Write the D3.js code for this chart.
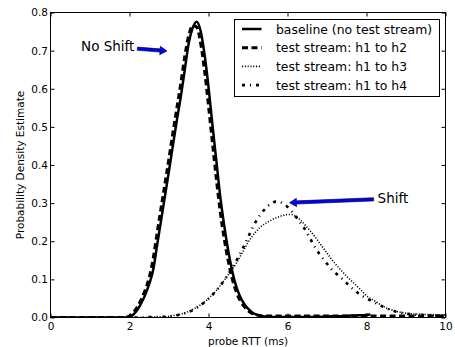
<!DOCTYPE html>
<html>
<head>
<meta charset="utf-8">
<script src="https://cdn.jsdelivr.net/npm/d3@7"></script>
<style>
  body { margin: 0; background: #fff; }
  text { font-family: "DejaVu Sans", sans-serif; }
</style>
</head>
<body>
<svg id="chart" width="455" height="347"></svg>
<script>
// x grid of the density estimates (ms), 0.0 .. 10.0
var rttGrid = d3.range(101).map(function(i){ return i / 10; });

// baseline stops at 8.1 ms
var baselineDensity = [
  0,0,0,0,0,0,0,0,0,0, 0,0,0,0,0,0,0,0,0,0,
  .002,.008,.02,.038,.06,.088,.125,.19,.255,.32,
  .385,.452,.518,.58,.65,.72,.76,.776,.752,.69,
  .605,.505,.41,.315,.24,.175,.122,.082,.055,.036,
  .023,.014,.008,.005,.003,.002,.001,.001,.001,.001,
  .001,.001,.001,.001,.001,.001,.001,.002,.002,.002,
  .002,.003,.003,.003,.004,.004,.005,.005,.006,.006,
  .007,.008
];
var h2Density = [
  0,0,0,0,0,0,0,0,0,0, 0,0,0,0,0,0,0,0,0,.001,
  .004,.013,.028,.048,.073,.105,.155,.222,.288,.352,
  .418,.485,.55,.615,.685,.74,.766,.762,.72,.648,
  .555,.458,.362,.275,.205,.148,.102,.068,.045,.029,
  .018,.011,.007,.005,.004,.004,.004,.004,.004,.004,
  .004,.004,.004,.004,.004,.004,.004,.004,.004,.004,
  .004,.004,.004,.004,.004,.004,.004,.004,.004,.004,
  .004,.004,.004,.004,.004,.004,.004,.004,.004,.004,
  .004,.004,.004,.004,.004,.004,.004,.004,.004,.004,
  .004
];
var h3Density = [
  0,0,0,0,0,0,0,0,0,0, 0,0,0,0,0,0,0,0,0,0,
  0,0,0,0,0,.001,.001,.001,.002,.002,
  .003,.005,.007,.009,.012,.016,.021,.027,.033,.041,
  .05,.06,.071,.084,.098,.112,.126,.142,.16,.178,
  .197,.212,.225,.236,.244,.25,.256,.261,.265,.268,
  .27,.27,.266,.258,.248,.236,.224,.211,.197,.183,
  .169,.155,.142,.13,.119,.108,.098,.088,.078,.068,
  .057,.05,.044,.037,.031,.025,.021,.018,.015,.013,
  .011,.01,.009,.009,.008,.008,.008,.007,.007,.007,
  .007
];
var h4Density = [
  0,0,0,0,0,0,0,0,0,0, 0,0,0,0,0,0,0,0,0,0,
  0,0,0,0,0,.001,.001,.001,.002,.002,
  .003,.004,.006,.008,.011,.015,.019,.025,.032,.04,
  .049,.059,.071,.084,.098,.113,.13,.148,.167,.188,
  .21,.232,.252,.268,.281,.292,.3,.304,.303,.298,
  .29,.279,.266,.252,.238,.221,.202,.184,.168,.154,
  .141,.128,.118,.109,.1,.09,.08,.071,.063,.056,
  .05,.045,.04,.034,.029,.024,.02,.017,.014,.012,
  .01,.009,.008,.007,.007,.006,.006,.005,.005,.005,
  .005
];

var seriesLabels = ["baseline (no test stream)", "test stream: h1 to h2",
                    "test stream: h1 to h3", "test stream: h1 to h4"];
var xTicks = [0, 2, 4, 6, 8, 10];
var yTicks = [0, 0.1, 0.2, 0.3, 0.4, 0.5, 0.6, 0.7, 0.8];

// annotations: text spot and arrow tip in data units
var noShiftNote = {text: "No Shift", tx: 2.2, ty: 0.705, ax: 2.95, ay: 0.699};
var shiftNote = {text: "Shift", tx: 8.18, ty: 0.31, ax: 6.05, ay: 0.301};

var margins = {top: 12.5, left: 50.5, right: 9.5, bottom: 29.5};
var width = 455, height = 347;

var svg = d3.select('#chart');

var xScale = d3.scaleLinear().domain([0, 10]).range([margins.left, width - margins.right]);
var yScale = d3.scaleLinear().domain([0, 0.8]).range([height - margins.bottom, margins.top]);

var styles = [
  {w: 2.5, dash: null},
  {w: 3, dash: "6,3.5"},
  {w: 1.6, dash: "1.1,1.7"},
  {w: 2.6, dash: "3,5,1,5"}
];
var allSeries = [baselineDensity, h2Density, h3Density, h4Density];

svg.append('clipPath').attr('id', 'plotClip')
  .append('rect')
  .attr('x', margins.left).attr('y', margins.top - 3)
  .attr('width', width - margins.left - margins.right)
  .attr('height', height - margins.top - margins.bottom + 3);

var lineGen = d3.line()
  .x(function(d, i){ return xScale(rttGrid[i]); })
  .y(function(d){ return yScale(d); })
  .curve(d3.curveMonotoneX);

svg.append('g').attr('clip-path', 'url(#plotClip)')
  .selectAll('.line').data(allSeries).enter().append('path')
  .attr('class', 'line')
  .attr('d', function(d){ return lineGen(d); })
  .attr('fill', 'none')
  .attr('stroke', '#000')
  .attr('stroke-width', function(d, i){ return styles[i].w; })
  .attr('stroke-dasharray', function(d, i){ return styles[i].dash; });

// axes, matplotlib-style ticks pointing in
var fontSize = 10.5;
svg.append('g').attr('transform', 'translate(0,' + yScale(0) + ')')
  .call(d3.axisBottom(xScale).tickValues(xTicks).tickFormat(d3.format('d')).tickSize(-4).tickPadding(5));
svg.append('g').attr('transform', 'translate(' + xScale(0) + ',0)')
  .call(d3.axisLeft(yScale).tickValues(yTicks).tickFormat(d3.format('.1f')).tickSize(-4).tickPadding(2.5));
svg.append('g').attr('transform', 'translate(0,' + yScale(0.8) + ')')
  .call(d3.axisTop(xScale).tickValues(xTicks).tickFormat('').tickSize(-4));
svg.append('g').attr('transform', 'translate(' + xScale(10) + ',0)')
  .call(d3.axisRight(yScale).tickValues(yTicks).tickFormat('').tickSize(-4));

svg.selectAll('.domain').remove();
svg.selectAll('.tick line').attr('stroke', '#000');
svg.selectAll('.tick text')
  .attr('font-family', '"DejaVu Sans", sans-serif')
  .attr('font-size', fontSize)
  .attr('fill', '#000');

svg.append('rect')
  .attr('x', xScale(0)).attr('y', yScale(0.8))
  .attr('width', xScale(10) - xScale(0))
  .attr('height', yScale(0) - yScale(0.8))
  .attr('fill', 'none').attr('stroke', '#000').attr('stroke-width', 1);

svg.append('text')
  .attr('x', (xScale(0) + xScale(10)) / 2).attr('y', 345)
  .attr('text-anchor', 'middle').attr('font-size', fontSize)
  .text('probe RTT (ms)');

svg.append('text')
  .attr('transform', 'translate(24,' + (yScale(0) + yScale(0.8)) / 2 + ') rotate(-90)')
  .attr('text-anchor', 'middle').attr('font-size', fontSize)
  .text('Probability Density Estimate');

// legend
var legend = svg.append('g').attr('transform', 'translate(234.5,19.5)');
legend.append('rect')
  .attr('width', 205).attr('height', 77)
  .attr('fill', '#fff').attr('stroke', '#000').attr('stroke-width', 1);
var rows = legend.selectAll('.row').data(seriesLabels).enter().append('g')
  .attr('transform', function(d, i){ return 'translate(0,' + (9.5 + i * 18.7) + ')'; });
rows.append('line')
  .attr('x1', 7.5).attr('x2', 27)
  .attr('stroke', '#000')
  .attr('stroke-width', function(d, i){ return styles[i].w; })
  .attr('stroke-dasharray', function(d, i){ return styles[i].dash; });
rows.append('text')
  .attr('x', 41.5).attr('y', 4.5)
  .attr('font-size', 12.4)
  .text(function(d){ return d; });

// annotation arrows
function arrow(note){
  var x1 = xScale(note.tx), y1 = yScale(note.ty);
  var x2 = xScale(note.ax), y2 = yScale(note.ay);
  var dx = x2 - x1, dy = y2 - y1, len = Math.sqrt(dx*dx + dy*dy);
  var ux = dx/len, uy = dy/len, nx = -uy, ny = ux;
  var sw = 1.6, hw = 4.2, hl = 7;
  var bx = x2 - ux*hl, by = y2 - uy*hl;
  var pts = [
    [x1 + nx*sw, y1 + ny*sw], [bx + nx*sw, by + ny*sw], [bx + nx*hw, by + ny*hw],
    [x2, y2],
    [bx - nx*hw, by - ny*hw], [bx - nx*sw, by - ny*sw], [x1 - nx*sw, y1 - ny*sw]
  ];
  svg.append('polygon')
    .attr('points', pts.map(function(p){ return p.join(','); }).join(' '))
    .attr('fill', '#0000ff').attr('stroke', '#000').attr('stroke-width', 0.6);
}
arrow(noShiftNote);
arrow(shiftNote);

svg.append('text')
  .attr('x', xScale(noShiftNote.tx) - 3).attr('y', yScale(noShiftNote.ty) + 2)
  .attr('text-anchor', 'end').attr('font-size', 13.5)
  .text(noShiftNote.text);
svg.append('text')
  .attr('x', xScale(shiftNote.tx) + 4).attr('y', yScale(shiftNote.ty) + 4)
  .attr('font-size', 13.5)
  .text(shiftNote.text);
</script>
</body>
</html>
